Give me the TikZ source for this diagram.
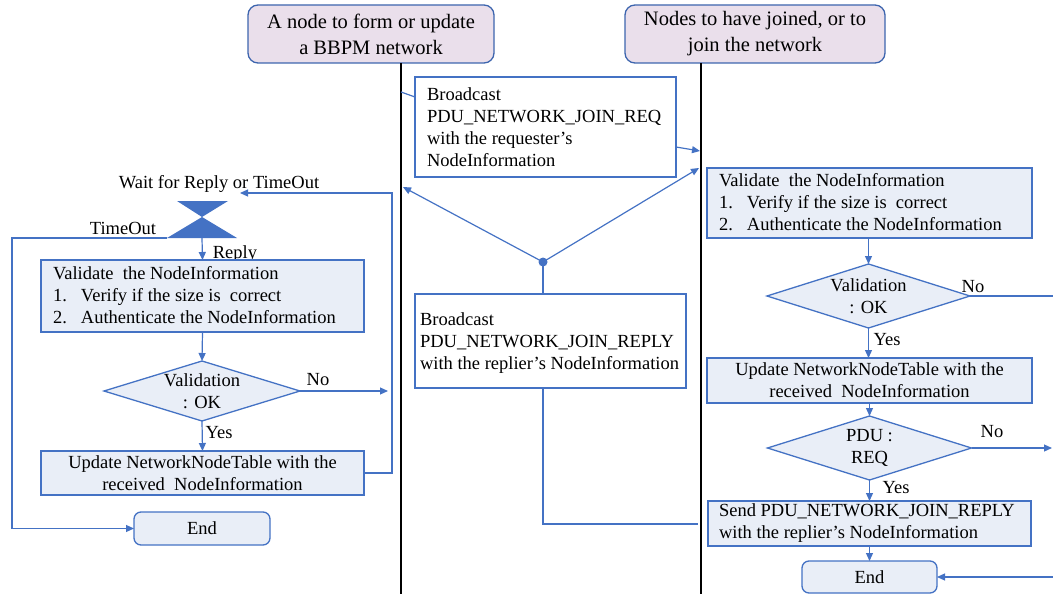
\documentclass[tikz,border=0pt]{standalone}
\usepackage{fontspec}
\setmainfont{Liberation Serif}
\newfontfamily\flowfont{Liberation Serif}
\usetikzlibrary{arrows.meta,shapes.geometric,calc}
\definecolor{flowblue}{HTML}{4472C4}
\definecolor{boxfill}{HTML}{E9EEF7}
\definecolor{headfill}{HTML}{EADFEB}
\definecolor{headline}{HTML}{3D65AE}
\newcommand{\itemno}[1]{\makebox[28pt][l]{#1}}
\begin{document}
\begin{tikzpicture}[x=1pt,y=-1pt,
  every node/.style={font=\flowfont\fontsize{18.5}{22}\selectfont, inner sep=0pt, outer sep=0pt},
  header/.style={draw=headline, fill=headfill, line width=1.3pt, rounded corners=10pt,
    align=center, font=\flowfont\fontsize{20.5}{26}\selectfont},
  procbox/.style={draw=flowblue, fill=boxfill, line width=1.3pt},
  msgbox/.style={draw=flowblue, fill=white, line width=1.3pt},
  endbox/.style={procbox, rounded corners=7pt},
  decision/.style={draw=flowblue, fill=boxfill, line width=1.3pt, diamond},
  conn/.style={draw=flowblue, line width=1.2pt},
  arr/.style={conn, -{Triangle[length=8pt,width=7pt]}},
  lifeline/.style={draw=black, line width=2pt},
]
\useasboundingbox (0,0) rectangle (1053,594);

% swimlane headers and lifelines
\node[header, minimum width=246, minimum height=58] (h1) at (371,34)
  {A node to form or update\\a BBPM network};
\node[header, minimum width=260, minimum height=58] (h2) at (755,34)
  {Nodes to have joined, or to\\join the network};
\coordinate (L1) at (401,594);
\coordinate (L2) at (701,594);
\draw[lifeline] (L1 |- h1.south) -- (L1);
\draw[lifeline] (L2 |- h2.south) -- (L2);

% messages exchanged between the lanes
\node[msgbox, minimum width=261, minimum height=100] (req) at (545.5,127) {};
\node[anchor=west, align=left] at ([xshift=12pt]req.west)
  {Broadcast\\PDU\_NETWORK\_JOIN\_REQ\\with the requester’s\\NodeInformation};
\node[msgbox, minimum width=271, minimum height=94] (rep) at (550.5,341) {};
\node[anchor=west, align=left] at ([xshift=5pt,yshift=-2pt]rep.west)
  {Broadcast\\PDU\_NETWORK\_JOIN\_REPLY\\with the replier’s NodeInformation};

% requester side
\node (wait) at (219,184) {Wait for Reply or TimeOut};
\coordinate (waitin) at (240,193);
\fill[flowblue] (177,201) -- (228,201) -- (202,217) -- cycle;
\fill[flowblue] (202,217) -- (167,238) -- (237,238) -- cycle;
\coordinate (hgbot) at (202,238);
\coordinate (hgleft) at (167,238);
\node at (123,228) {TimeOut};
\node at (235,254) {Reply};

\node[procbox, minimum width=323, minimum height=72] (lv) at (202.5,296) {};
\node[anchor=west, align=left] at ([xshift=12pt,yshift=1pt]lv.west)
  {Validate\ \ the NodeInformation\\\itemno{1.}Verify if the size is\ \ correct\\\itemno{2.}Authenticate the NodeInformation};
\node[decision, minimum width=196, minimum height=60] (ld) at (202,391) {};
\node[align=center] at (ld) {Validation\\: OK};
\node at (318,380) {No};
\coordinate (noL) at (388,391);
\node at (219,433) {Yes};
\node[procbox, minimum width=323, minimum height=44, align=center] (lu) at (202.5,473)
  {Update NetworkNodeTable with the\\received\ \ NodeInformation};
\node[endbox, minimum width=136, minimum height=33] (lend) at (202,528.5) {End};

\draw[arr] (hgbot) -- (lv.north);
\draw[arr] (lv.south) -- (ld.north);
\draw[arr] (ld.south) -- (lu.north);
\draw[arr] (ld.east) -- (noL);
\draw[arr] (lu.east) -- (392,473) -- (392,193) -- (waitin);
\draw[arr] (hgleft) -- (12,238) |- (lend.west);

% responder side
\node[procbox, minimum width=325, minimum height=70] (rv) at (869.5,203) {};
\node[anchor=west, align=left] at ([xshift=12pt,yshift=1pt]rv.west)
  {Validate\ \ the NodeInformation\\\itemno{1.}Verify if the size is\ \ correct\\\itemno{2.}Authenticate the NodeInformation};
\node[decision, minimum width=203, minimum height=64] (rd1) at (868.5,296) {};
\node[align=center] at (rd1) {Validation\\: OK};
\node at (973,287) {No};
\node at (887,340) {Yes};
\node[procbox, minimum width=325, minimum height=45, align=center] (ru) at (869.5,380.5)
  {Update NetworkNodeTable with the\\received\ \ NodeInformation};
\node[decision, minimum width=204, minimum height=64] (rd2) at (869.5,448) {};
\node[align=center] at (rd2) {PDU :\\REQ};
\node at (992,432) {No};
\node at (896,488) {Yes};
\node[procbox, minimum width=323, minimum height=45] (send) at (869.5,523.5) {};
\node[anchor=west, align=left] at ([xshift=11pt]send.west)
  {Send PDU\_NETWORK\_JOIN\_REPLY\\with the replier’s NodeInformation};
\node[endbox, minimum width=135, minimum height=32] (rend) at (869.5,577) {End};

\coordinate (rno1) at (1053,296);
\coordinate (rno2) at (1052,448);
\coordinate (rin) at (1053,577);
\draw[arr] (rv.south -| rd1) -- (rd1.north);
\draw[arr] (rd1.south) -- (ru.north -| rd1);
\draw[arr] (ru.south -| rd2) -- (rd2.north);
\draw[arr] (rd2.south) -- (send.north -| rd2);
\draw[arr] (send.south -| rend) -- (rend.north);
\draw[conn] (rd1.east) -- (rno1);
\draw[arr] (rd2.east) -- (rno2);
\draw[arr] (rin) -- (rend.east);

% message flow
\coordinate (reqin) at (401,92);
\coordinate (reqout) at (700,151);
\coordinate (dot) at (543,262);
\coordinate (toL) at (403,187);
\coordinate (toR) at (699,168);
\coordinate (repout) at (698,524);
\draw[conn] (reqin) -- ([yshift=-20pt]req.north west);
\draw[arr] ([yshift=-20pt]req.east) -- (reqout);
\draw[arr] (dot) -- (toL);
\draw[arr] (dot) -- (toR);
\draw[conn] (dot) -- (dot |- rep.north);
\draw[conn] (dot |- rep.south) |- (repout);
\fill[flowblue] (dot) circle (4.5pt);
\end{tikzpicture}
\end{document}
